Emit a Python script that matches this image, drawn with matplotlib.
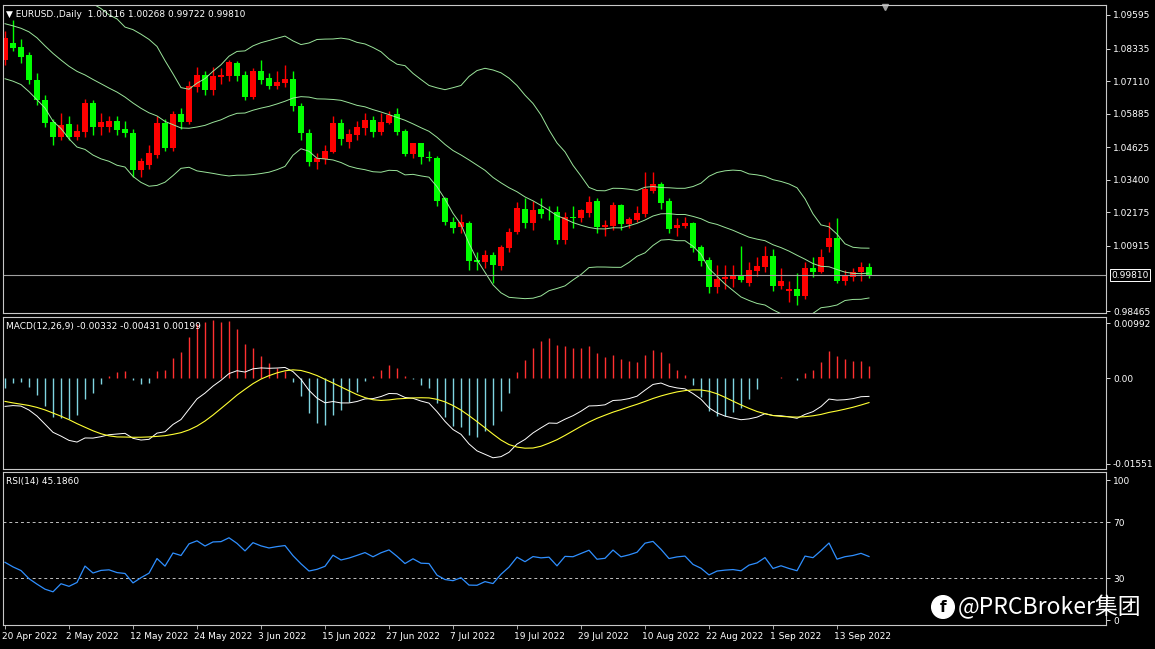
import numpy as np
import pandas as pd
import matplotlib
matplotlib.use("Agg")
import matplotlib.pyplot as plt
from matplotlib.patches import Rectangle

# ---- data (EURUSD daily) ----
hist_close = [1.1007, 1.0996, 1.0984, 1.0985, 1.1088, 1.1160, 1.1067, 1.1045, 1.0971, 1.0904,
              1.0900, 1.0877, 1.0877, 1.0886, 1.0830, 1.0891, 1.0825, 1.0808, 1.0780, 1.0788]
opens = [1.0790, 1.0854, 1.0839, 1.0809, 1.0715, 1.0640, 1.0557, 1.0501, 1.0550, 1.0501,
         1.0520, 1.0629, 1.0538, 1.0538, 1.0561, 1.0531, 1.0516, 1.0377, 1.0396, 1.0433,
         1.0554, 1.0460, 1.0587, 1.0557, 1.0689, 1.0734, 1.0678, 1.0726, 1.0730, 1.0779,
         1.0734, 1.0651, 1.0749, 1.0723, 1.0693, 1.0704, 1.0719, 1.0617, 1.0516, 1.0407,
         1.0418, 1.0444, 1.0554, 1.0482, 1.0508, 1.0535, 1.0565, 1.0520, 1.0554, 1.0587,
         1.0523, 1.0437, 1.0478, 1.0426, 1.0422, 1.0272, 1.0181, 1.0162, 1.0177, 1.0038,
         1.0031, 1.0057, 1.0016, 1.0084, 1.0144, 1.0230, 1.0177, 1.0230, 1.0219, 1.0219,
         1.0114, 1.0200, 1.0196, 1.0215, 1.0260, 1.0162, 1.0166, 1.0245, 1.0174, 1.0189,
         1.0211, 1.0298, 1.0324, 1.0260, 1.0159, 1.0166, 1.0177, 1.0087, 1.0038, 0.9937,
         0.9967, 0.9967, 0.9978, 0.9952, 0.9997, 1.0012, 1.0053, 0.9940, 0.9922, 0.9929,
         0.9903, 1.0008, 0.9993, 1.0087, 1.0121, 0.9959, 0.9974, 0.9993, 1.00116]
closes = [1.0873, 1.0835, 1.0802, 1.0715, 1.0640, 1.0554, 1.0501, 1.0546, 1.0501, 1.0523,
          1.0629, 1.0538, 1.0557, 1.0561, 1.0527, 1.0516, 1.0377, 1.0411, 1.0441, 1.0554,
          1.0460, 1.0587, 1.0557, 1.0693, 1.0734, 1.0678, 1.0730, 1.0734, 1.0783, 1.0730,
          1.0651, 1.0749, 1.0715, 1.0693, 1.0708, 1.0719, 1.0617, 1.0516, 1.0407, 1.0422,
          1.0448, 1.0554, 1.0493, 1.0512, 1.0538, 1.0565, 1.0520, 1.0557, 1.0584, 1.0520,
          1.0437, 1.0478, 1.0426, 1.0422, 1.0260, 1.0181, 1.0159, 1.0181, 1.0035, 1.0031,
          1.0057, 1.0020, 1.0087, 1.0144, 1.0234, 1.0177, 1.0226, 1.0211, 1.0217, 1.0114,
          1.0200, 1.0196, 1.0226, 1.0256, 1.0162, 1.0170, 1.0245, 1.0174, 1.0192, 1.0215,
          1.0305, 1.0324, 1.0253, 1.0155, 1.0170, 1.0177, 1.0084, 1.0035, 0.9937, 0.9967,
          0.9974, 0.9978, 0.9963, 1.0001, 1.0016, 1.0053, 0.9940, 0.9959, 0.9929, 0.9903,
          1.0008, 0.9993, 1.0050, 1.0121, 0.9959, 0.9982, 0.9993, 1.0012, 0.99810]
highs = [1.0900, 1.0941, 1.0870, 1.0820, 1.0740, 1.0660, 1.0570, 1.0590, 1.0580, 1.0550,
         1.0645, 1.0640, 1.0590, 1.0580, 1.0580, 1.0560, 1.0530, 1.0420, 1.0470, 1.0580,
         1.0570, 1.0600, 1.0610, 1.0710, 1.0765, 1.0750, 1.0765, 1.0760, 1.0790, 1.0785,
         1.0750, 1.0760, 1.0790, 1.0740, 1.0750, 1.0770, 1.0750, 1.0630, 1.0530, 1.0440,
         1.0470, 1.0580, 1.0570, 1.0530, 1.0560, 1.0590, 1.0580, 1.0590, 1.0600, 1.0610,
         1.0530, 1.0480, 1.0480, 1.0450, 1.0430, 1.0275, 1.0200, 1.0210, 1.0185, 1.0070,
         1.0075, 1.0070, 1.0095, 1.0160, 1.0255, 1.0270, 1.0260, 1.0270, 1.0240, 1.0240,
         1.0220, 1.0240, 1.0230, 1.0280, 1.0270, 1.0190, 1.0255, 1.0250, 1.0200, 1.0240,
         1.0368, 1.0368, 1.0330, 1.0270, 1.0195, 1.0200, 1.0180, 1.0095, 1.0050, 1.0020,
         1.0020, 1.0020, 1.0090, 1.0030, 1.0050, 1.0090, 1.0080, 1.0010, 0.9960, 0.9990,
         1.0030, 1.0050, 1.0080, 1.0180, 1.0197, 1.0000, 1.0010, 1.0030, 1.00268]
lows = [1.0770, 1.0825, 1.0780, 1.0700, 1.0620, 1.0540, 1.0470, 1.0490, 1.0490, 1.0490,
        1.0500, 1.0510, 1.0510, 1.0520, 1.0510, 1.0500, 1.0350, 1.0350, 1.0380, 1.0420,
        1.0450, 1.0450, 1.0530, 1.0550, 1.0670, 1.0660, 1.0660, 1.0700, 1.0710, 1.0710,
        1.0640, 1.0645, 1.0700, 1.0680, 1.0680, 1.0690, 1.0600, 1.0490, 1.0390, 1.0380,
        1.0400, 1.0440, 1.0470, 1.0460, 1.0490, 1.0510, 1.0500, 1.0510, 1.0550, 1.0510,
        1.0430, 1.0420, 1.0400, 1.0410, 1.0240, 1.0170, 1.0140, 1.0140, 1.0000, 1.0000,
        1.0010, 0.9952, 1.0000, 1.0070, 1.0135, 1.0160, 1.0150, 1.0195, 1.0190, 1.0100,
        1.0100, 1.0160, 1.0180, 1.0200, 1.0140, 1.0130, 1.0150, 1.0150, 1.0160, 1.0180,
        1.0200, 1.0290, 1.0230, 1.0140, 1.0130, 1.0160, 1.0070, 1.0015, 0.9915, 0.9915,
        0.9930, 0.9935, 0.9955, 0.9940, 0.9980, 0.9995, 0.9920, 0.9930, 0.9880, 0.9869,
        0.9890, 0.9975, 0.9990, 1.0070, 0.9950, 0.9945, 0.9960, 0.9960, 0.99722]
price_ticks = [1.09595, 1.08335, 1.07110, 1.05885, 1.04625, 1.03400, 1.02175, 1.00915, 0.98465]
last_price = 0.99810
macd_ticks = [0.00992, 0.0, -0.01551]
macd_tick_labels = ["0.00992", "0.00", "-0.01551"]
rsi_ticks = [100, 70, 30, 0]
date_labels = ["20 Apr 2022", "2 May 2022", "12 May 2022", "24 May 2022", "3 Jun 2022", "15 Jun 2022",
               "27 Jun 2022", "7 Jul 2022", "19 Jul 2022", "29 Jul 2022", "10 Aug 2022", "22 Aug 2022",
               "1 Sep 2022", "13 Sep 2022"]
date_label_bars = [0, 8, 16, 24, 32, 40, 48, 56, 64, 72, 80, 88, 96, 104]

# ---- indicators from the closes ----
n_hist = len(hist_close)
allc = pd.Series(hist_close + closes)
mid = allc.rolling(20, min_periods=5).mean()
sd = allc.rolling(20, min_periods=5).std(ddof=0)
upper = (mid + 2 * sd).values[n_hist:]
lower = (mid - 2 * sd).values[n_hist:]
mid = mid.values[n_hist:]
ema12 = allc.ewm(span=12, adjust=False).mean()
ema26 = allc.ewm(span=26, adjust=False).mean()
macd = ema12 - ema26
signal = macd.rolling(9, min_periods=1).mean()
histo = (2 * (macd - signal)).values[n_hist:]
macd = macd.values[n_hist:]
signal = signal.values[n_hist:]
d = allc.diff()
up = d.clip(lower=0).ewm(alpha=1 / 14, adjust=False).mean()
dn = (-d.clip(upper=0)).ewm(alpha=1 / 14, adjust=False).mean()
rsi = (100 - 100 / (1 + up / dn)).values[n_hist:]

W, H = 1155, 649
fig = plt.figure(figsize=(W / 100, H / 100), dpi=100, facecolor="black")
x = np.arange(len(closes))
XL = (-0.25, (1106 - 5) / 8)
FS = 6.5
GRAY = "#c8c8c8"

def axes_px(x0, y0, x1, y1):
    ax = fig.add_axes([x0 / W, 1 - y1 / H, (x1 - x0) / W, (y1 - y0) / H])
    ax.set_facecolor("black")
    for s in ax.spines.values():
        s.set_color(GRAY)
        s.set_linewidth(0.8)
    ax.set_xlim(*XL)
    ax.set_xticks([])
    ax.yaxis.tick_right()
    ax.tick_params(axis="y", colors="white", labelsize=FS, length=3, width=0.6, pad=2)
    return ax

# main panel
p0 = 1.09595 + (15 - 5) * 0.000376
p1 = 1.09595 - (313 - 15) * 0.000376
ax = axes_px(3, 5, 1106, 313)
ax.set_ylim(p1, p0)
for i in x:
    o, c, h, l = opens[i], closes[i], highs[i], lows[i]
    col = "#ff0000" if c > o else "#00ff00"
    ax.vlines(i, l, h, color=col, lw=1)
    ax.add_patch(Rectangle((i - 0.33, min(o, c)), 0.66, max(abs(c - o), 0.00025), color=col, lw=0))
bc = "#9be59b"
ax.plot(x, upper, color=bc, lw=0.7)
ax.plot(x, mid, color=bc, lw=0.7)
ax.plot(x, lower, color=bc, lw=0.7)
ax.axhline(last_price, color="#a0a0a0", lw=0.8)
ax.set_yticks(price_ticks)
ax.set_yticklabels([f"{t:.5f}" for t in price_ticks])
ax.text(1.005, (last_price - p1) / (p0 - p1), f"{last_price:.5f}", transform=ax.transAxes,
        color="white", fontsize=FS, va="center", ha="left",
        bbox=dict(boxstyle="square,pad=0.15", fc="black", ec="white", lw=0.7))
ax.text(0.003, 0.985, "▼ EURUSD.,Daily  1.00116 1.00268 0.99722 0.99810", transform=ax.transAxes,
        color="white", fontsize=FS, va="top", ha="left")
ax.plot([(885 - 5) / 8], [p0 - 0.0006], marker="v", color="#a0a0a0", ms=5, clip_on=False)

# MACD panel
mk = 0.00992 / 55
ax2 = axes_px(3, 317, 1106, 469)
ax2.set_ylim(-(469 - 378) * mk, (378 - 317) * mk)
hc = np.where(histo >= 0, "#ff3030", "#7fd4e0")
ax2.vlines(x, 0, histo, colors=hc, lw=1)
ax2.plot(x, macd, color="white", lw=0.7)
ax2.plot(x, signal, color="#ffff33", lw=0.8)
ax2.set_yticks(macd_ticks)
ax2.set_yticklabels(macd_tick_labels)
ax2.text(0.003, 0.97, "MACD(12,26,9) -0.00332 -0.00431 0.00199",
         transform=ax2.transAxes, color="white", fontsize=FS, va="top")

# RSI panel
ru = 100 / 140
ax3 = axes_px(3, 472, 1106, 625)
ax3.set_ylim(-(625 - 620) * ru, 100 + (480 - 472) * ru)
ax3.axhline(70, color="#c0c0c0", lw=0.7, ls=(0, (3, 3)))
ax3.axhline(30, color="#c0c0c0", lw=0.7, ls=(0, (3, 3)))
ax3.plot(x, rsi, color="#2f8fff", lw=0.9)
ax3.set_yticks(rsi_ticks)
ax3.set_yticklabels([str(t) for t in rsi_ticks])
ax3.text(0.003, 0.97, "RSI(14) 45.1860", transform=ax3.transAxes, color="white",
         fontsize=FS, va="top")
for b, lab in zip(date_label_bars, date_labels):
    ax3.annotate(lab, (b, 0), xycoords=("data", "axes fraction"), xytext=(-2, -5),
                 textcoords="offset points", color="white", fontsize=FS, va="top", ha="left",
                 annotation_clip=False)
    ax3.vlines(b, -(625 - 620) * ru - 3, -(625 - 620) * ru, color=GRAY, lw=0.6, clip_on=False)

# watermark
fig.text(943 / W, 1 - 607 / H, "f", color="black", fontsize=11, fontweight="bold",
         ha="center", va="center", zorder=11,
         bbox=dict(boxstyle="circle,pad=0.25", fc="white", ec="white"))
fig.text(958 / W, 1 - 607 / H, "@PRCBroker集团", color="white", fontsize=16.5,
         family=["Noto Sans CJK SC", "DejaVu Sans"], ha="left", va="center", zorder=11)

fig.savefig("out.png", dpi=100, facecolor="black")
